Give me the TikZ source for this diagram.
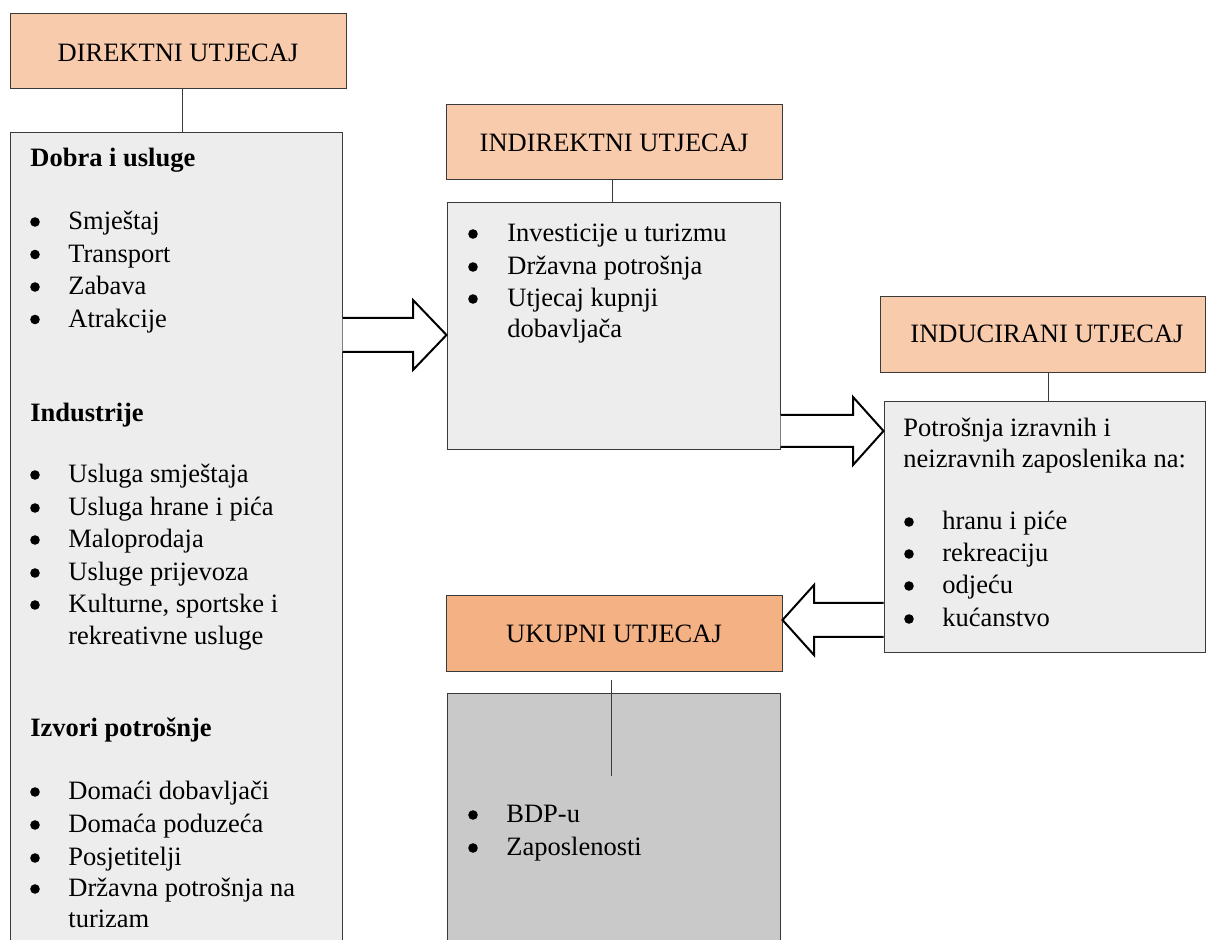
\documentclass[tikz,border=0pt]{standalone}
\usepackage{fontspec}
\setmainfont{Liberation Serif}
\usetikzlibrary{fit}
\definecolor{peach}{HTML}{F8CBAD}
\definecolor{orng}{HTML}{F4B183}
\definecolor{lgray}{HTML}{EDEDED}
\definecolor{mgray}{HTML}{C9C9C9}
\definecolor{edge}{HTML}{3A3A3A}
\begin{document}
\begin{tikzpicture}[x=0.5pt,y=-0.5pt,
  box/.style={draw=edge, line width=0.5pt, inner sep=0pt},
  txt/.style={anchor=base west, inner sep=0pt, font=\fontsize{13.25}{16}\selectfont},
  ttl/.style={anchor=base, inner sep=0pt, font=\fontsize{13.25}{16}\selectfont},
  hdr/.style={anchor=base west, inner sep=0pt, font=\fontsize{13.25}{16}\selectfont\bfseries},
  dot/.style={circle, fill=black, inner sep=0pt, minimum size=4.8pt},
  blk/.style={draw=black, fill=white, line width=1pt, line join=miter},
  link/.style={draw=edge, line width=0.5pt}]
\clip (0,0) rectangle (1206,940);

% ---- boxes ----
\node[box, fill=peach, fit={(10,14) (346,89)}] (dir) {};
\node[box, fill=lgray, fit={(10,133) (342,980)}] (L) {};
\node[box, fill=peach, fit={(446,105) (782,180)}] (ind) {};
\node[box, fill=lgray, fit={(447,203) (780,450)}] (I) {};
\node[box, fill=peach, fit={(880,297) (1205,373)}] (inu) {};
\node[box, fill=lgray, fit={(884,402) (1205,653)}] (Q) {};
\node[box, fill=orng, fit={(446,596) (782,672)}] (tot) {};
\node[box, fill=mgray, fit={(447,694) (780,980)}] (G) {};

% ---- titles ----
\node[ttl] (dirT) at (178,62) {DIREKTNI UTJECAJ};
\node[ttl] (indT) at (614,152) {INDIREKTNI UTJECAJ};
\node[ttl] (inuT) at (1047,343) {INDUCIRANI UTJECAJ};
\node[ttl] (totT) at (614,643) {UKUPNI UTJECAJ};

% ---- connectors ----
\draw[link] (dir.south -| 182,0) -- (L.north -| 182,0);
\draw[link] (ind.south -| 612,0) -- (I.north -| 612,0);
\draw[link] (inu.south -| 1048,0) -- (Q.north -| 1048,0);
\coordinate (g1) at (611,680);
\coordinate (g2) at (611,776);
\draw[link] (g1) -- (g2);

% ---- block arrows ----
\filldraw[blk] (L.east |- 0,318) -- (413,318) -- (413,300) -- (I.west |- 0,335)
  -- (413,370) -- (413,352) -- (L.east |- 0,352);
\filldraw[blk] (I.east |- 0,415) -- (853,415) -- (853,397) -- (Q.west |- 0,431)
  -- (853,465) -- (853,447) -- (I.east |- 0,447);
\filldraw[blk] (Q.west |- 0,603) -- (814,603) -- (814,585) -- (tot.east |- 0,620)
  -- (814,655) -- (814,637) -- (Q.west |- 0,637);

% ---- left box text ----
\node[hdr] (h1) at (30,167) {Dobra i usluge};
\foreach \y/\t [count=\i] in {230/Smještaj, 262.5/Transport, 295/Zabava, 327.5/Atrakcije}{
  \node[dot] (ad\i) at (35,\y-8) {};
  \node[txt] (at\i) at (68,\y) {\t};
}
\node[hdr] (h2) at (30,422) {Industrije};
\foreach \y/\t [count=\i] in {483/Usluga smještaja, 516/Usluga hrane i pića, 548/Maloprodaja, 581/Usluge prijevoza, 613/{Kulturne, sportske i}}{
  \node[dot] (bd\i) at (35,\y-8) {};
  \node[txt] (bt\i) at (68,\y) {\t};
}
\node[txt] (bt6) at (68,645) {rekreativne usluge};
\node[hdr] (h3) at (30,737) {Izvori potrošnje};
\foreach \y/\t [count=\i] in {800/Domaći dobavljači, 833/Domaća poduzeća, 866/Posjetitelji, 897/Državna potrošnja na}{
  \node[dot] (cd\i) at (35,\y-8) {};
  \node[txt] (ct\i) at (68,\y) {\t};
}
\node[txt] (ct5) at (68,928) {turizam};

% ---- indirect box text ----
\foreach \y/\t [count=\i] in {242/Investicije u turizmu, 275/Državna potrošnja, 307/Utjecaj kupnji}{
  \node[dot] (dd\i) at (473,\y-8) {};
  \node[txt] (dt\i) at (507,\y) {\t};
}
\node[txt] (dt4) at (507,338) {dobavljača};

% ---- induced box text ----
\node[txt] (e1) at (903,437) {Potrošnja izravnih i};
\node[txt] (e2) at (903,468) {neizravnih zaposlenika na:};
\foreach \y/\t [count=\i] in {530/hranu i piće, 562/rekreaciju, 594/odjeću, 627/kućanstvo}{
  \node[dot] (ed\i) at (909,\y-8) {};
  \node[txt] (et\i) at (942,\y) {\t};
}

% ---- total box text ----
\foreach \y/\t [count=\i] in {823/BDP-u, 856/Zaposlenosti}{
  \node[dot] (fd\i) at (473,\y-8) {};
  \node[txt] (ft\i) at (506,\y) {\t};
}
\end{tikzpicture}
\end{document}
